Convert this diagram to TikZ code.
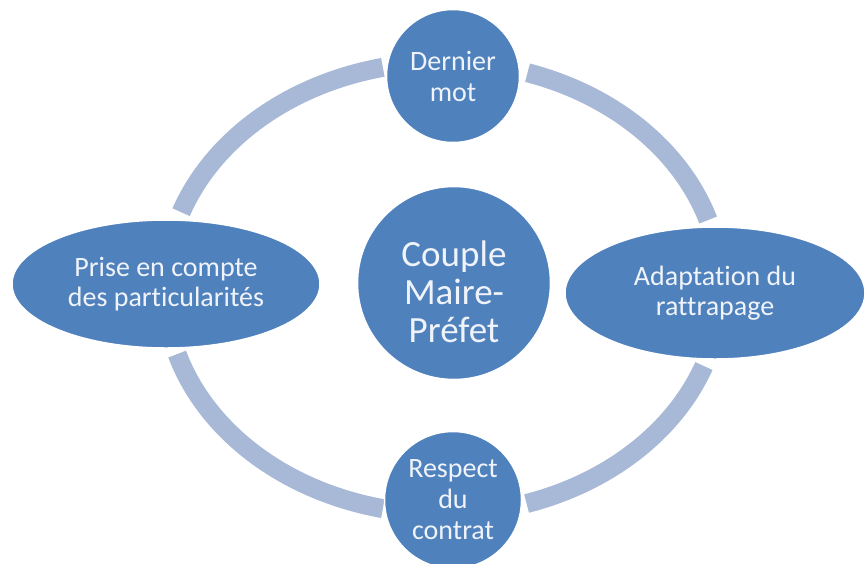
\documentclass[tikz,border=0pt]{standalone}
\usepackage{fontspec}
\setmainfont{Carlito}[Ligatures=NoCommon]
\usetikzlibrary{shapes.geometric}
\definecolor{nodeblue}{RGB}{79,129,189}
\definecolor{ringblue}{RGB}{167,185,215}
\definecolor{txt}{RGB}{240,244,250}
\tikzset{
  ringarc/.style={draw=ringblue, line width=19pt, line cap=butt},
  bubble/.style={circle, fill=nodeblue, draw=white, line width=1.5pt, inner sep=0pt,
    text=txt, align=center, font=\fontsize{28}{31}\selectfont},
  oval/.style={ellipse, fill=nodeblue, draw=white, line width=1.5pt, inner sep=0pt,
    text=txt, align=center, font=\fontsize{28}{30}\selectfont},
  hub/.style={circle, fill=nodeblue, draw=white, line width=1.5pt, inner sep=0pt},
  hubtext/.style={text=txt, align=center, font=\fontsize{37}{38}\selectfont, yshift=-9pt}
}
\begin{document}
\begin{tikzpicture}[x=1pt, y=-1pt]
\useasboundingbox (0,0) rectangle (866,563);
% ring arcs
\draw[ringarc] plot[domain=102.5:160.4, samples=60, smooth] ({443+278*cos(\x)}, {288-226*sin(\x)});
\draw[ringarc] plot[domain=197:257.5, samples=60, smooth] ({443+278*cos(\x)}, {288-226*sin(\x)});
\draw[ringarc] plot[domain=287.5:339.8, samples=60, smooth] ({443+278*cos(\x)}, {288-226*sin(\x)});
\draw[ringarc] plot[domain=17.5:72.3, samples=60, smooth] ({443+278*cos(\x)}, {288-226*sin(\x)});
% nodes
\node[bubble, minimum size=133pt] (top) at (453,76) {Dernier\\mot};
\node[hub, minimum size=193pt, label={[hubtext]center:{Couple\\Maire-\\Préfet}}] (hubnode) at (454,283) {};
\node[bubble, minimum size=137pt] (bottom) at (453,500) {Respect\\du\\contrat};
\node[oval, minimum width=308pt, minimum height=128pt] (left) at (166,284) {Prise en compte\\des particularités};
\node[oval, minimum width=300pt, minimum height=132pt] (right) at (715,293) {Adaptation du\\rattrapage};
\end{tikzpicture}
\end{document}
